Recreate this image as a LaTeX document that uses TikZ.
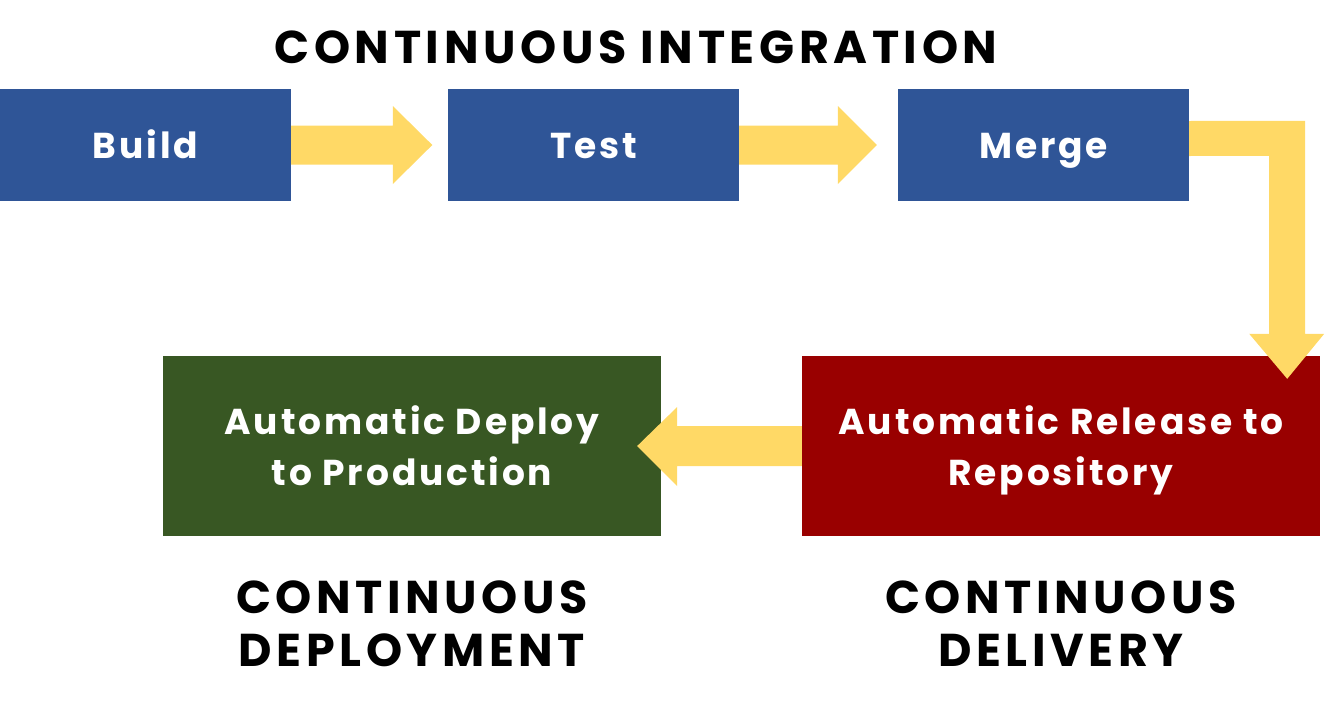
\documentclass[tikz,border=0pt]{standalone}
\usepackage{fontspec}
\setmainfont{Poppins}
\newfontfamily\boxfont{Poppins}[LetterSpace=8]
\newfontfamily\headfont{Poppins}[LetterSpace=10]
\usetikzlibrary{calc}
\definecolor{boxblue}{HTML}{2F5597}
\definecolor{boxgreen}{HTML}{385723}
\definecolor{boxred}{HTML}{990000}
\definecolor{arrowyellow}{HTML}{FFD966}
\tikzset{
  stage/.style={rectangle, inner sep=0pt, text=white, font=\boxfont\fontsize{36}{51}\selectfont\bfseries, align=center, text depth=0pt},
  ci/.style={stage, fill=boxblue, minimum width=291pt, minimum height=112pt, text height=26pt},
  big/.style={stage, minimum height=180pt},
  heading/.style={inner sep=0pt, text=black, font=\headfont\fontsize{46}{53}\selectfont\bfseries, align=center},
  flow/.style={fill=arrowyellow, draw=none}
}
\begin{document}
\begin{tikzpicture}[x=1pt, y=-1pt]
\useasboundingbox (0,0) rectangle (1327,715);
\node[heading] (title) at (636,47) {CONTINUOUS INTEGRATION};
\node[ci] (build) at (145.5,145) {Build};
\node[ci] (test) at (593.5,145) {Test};
\node[ci] (merge) at (1043.5,145) {Merge};
\node[big, fill=boxgreen, minimum width=498pt] (deploy) at (412,446) {Automatic Deploy\\to Production};
\node[big, fill=boxred, minimum width=518pt] (release) at (1061,446) {Automatic Release to\\Repository};
\node[heading] (cdep) at (412,624) {CONTINUOUS\\DEPLOYMENT};
\node[heading] (cdel) at (1061,624) {CONTINUOUS\\DELIVERY};
% Build -> Test
\fill[flow] ($(build.east)+(0,-19.5)$) -- ($(test.west)+(-55,-19.5)$) -- ($(test.west)+(-55,-39)$)
  -- ($(test.west)+(-15.5,0)$) -- ($(test.west)+(-55,39)$) -- ($(test.west)+(-55,19.5)$)
  -- ($(build.east)+(0,19.5)$) -- cycle;
% Test -> Merge
\fill[flow] ($(test.east)+(0,-19.5)$) -- ($(merge.west)+(-60,-19.5)$) -- ($(merge.west)+(-60,-39)$)
  -- ($(merge.west)+(-21,0)$) -- ($(merge.west)+(-60,39)$) -- ($(merge.west)+(-60,19.5)$)
  -- ($(test.east)+(0,19.5)$) -- cycle;
% Merge -> Release (L-shaped)
\coordinate (tip) at ($(release.north east)+(-33,23)$);
\fill[flow] ($(merge.east)+(0,-24)$) -- ($(tip)+(18,-258)$) -- ($(tip)+(18,-45)$)
  -- ($(tip)+(37,-45)$) -- (tip) -- ($(tip)+(-38,-45)$) -- ($(tip)+(-18,-45)$)
  -- ($(tip)+(-18,-223)$) -- ($(merge.east)+(0,11)$) -- cycle;
% Release -> Deploy
\fill[flow] ($(release.west)+(0,-20)$) -- ($(deploy.east)+(16,-20)$) -- ($(deploy.east)+(16,-39)$)
  -- ($(deploy.east)+(-24,0)$) -- ($(deploy.east)+(16,40)$) -- ($(deploy.east)+(16,20)$)
  -- ($(release.west)+(0,20)$) -- cycle;
\end{tikzpicture}
\end{document}
